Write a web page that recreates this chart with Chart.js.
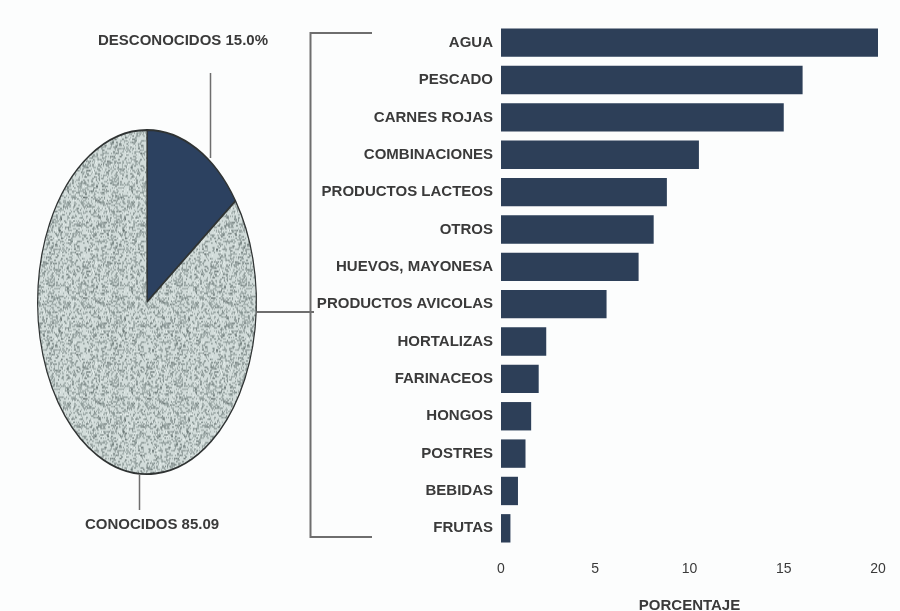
<!DOCTYPE html>
<html>
<head>
<meta charset="utf-8">
<title>Brotes por alimento</title>
<script src="https://cdn.jsdelivr.net/npm/chart.js@4/dist/chart.umd.min.js"></script>
<style>
  body { margin: 0; background: #fcfdfd; }
  #wrap { position: relative; width: 900px; height: 611px; }
  #wrap canvas { position: absolute; left: 0; top: 0; }
</style>
</head>
<body>
<div id="wrap">
  <canvas id="pieChart" width="900" height="611"></canvas>
  <canvas id="barChart" width="900" height="611"></canvas>
</div>
<script>
// pie: share of outbreaks with known / unknown food
const pieLabels = ["DESCONOCIDOS", "CONOCIDOS"];
const pieValues = [15.0, 85.0];
const pieCaptions = ["DESCONOCIDOS 15.0%", "CONOCIDOS 85.09"];

// bars: known foods, percentage
const categories = [
  "AGUA", "PESCADO", "CARNES ROJAS", "COMBINACIONES", "PRODUCTOS LACTEOS",
  "OTROS", "HUEVOS, MAYONESA", "PRODUCTOS AVICOLAS", "HORTALIZAS",
  "FARINACEOS", "HONGOS", "POSTRES", "BEBIDAS", "FRUTAS"
];
const percentages = [20.0, 16.0, 15.0, 10.5, 8.8, 8.1, 7.3, 5.6, 2.4, 2.0, 1.6, 1.3, 0.9, 0.5];
const xTicks = [0, 5, 10, 15, 20];

const DARK = "#2c4160";
const BAR_COLOR = "#2d3f58";
const TEXT = "#3a3a3a";
const LINE = "#6e6e6e";
const FONT = "'Liberation Sans', Arial, sans-serif";
const PIE_STRETCH = 173 / 110;

// speckled grey fill for the big slice
function speckle() {
  const c = document.createElement("canvas");
  c.width = 64;
  c.height = 64;
  const g = c.getContext("2d");
  g.fillStyle = "#d2dcda";
  g.fillRect(0, 0, 64, 64);
  let seed = 7;
  const next = () => (seed = (seed * 16807) % 2147483647) / 2147483647;
  for (let i = 0; i < 1700; i++) {
    const x = Math.floor(next() * 64);
    const y = Math.floor(next() * 64);
    const dark = next();
    g.fillStyle = dark < 0.7 ? "rgba(124,137,136,0.5)" : "rgba(84,95,95,0.45)";
    g.fillRect(x, y, 1 + Math.floor(next() * 2), 1);
  }
  for (let i = 0; i < 300; i++) {
    g.fillStyle = "rgba(236,243,242,0.7)";
    g.fillRect(Math.floor(next() * 64), Math.floor(next() * 64), 1, 1);
  }
  return g.createPattern(c, "repeat");
}

// squash the round pie into the tall oval
const ovalPie = {
  id: "ovalPie",
  beforeDatasetsDraw(chart) {
    const arc = chart.getDatasetMeta(0).data[0];
    const ctx = chart.ctx;
    ctx.save();
    ctx.translate(arc.x, arc.y);
    ctx.scale(1, PIE_STRETCH);
    ctx.translate(-arc.x, -arc.y);
  },
  afterDatasetsDraw(chart) {
    chart.ctx.restore();
  }
};

// captions, leader lines and the bracket joining the pie to the bars
const pieNotes = {
  id: "pieNotes",
  afterDraw(chart) {
    const ctx = chart.ctx;
    const arc = chart.getDatasetMeta(0).data[0];
    const cx = arc.x, cy = arc.y, r = arc.outerRadius;
    ctx.save();
    ctx.strokeStyle = LINE;
    ctx.lineWidth = 1.5;
    ctx.beginPath();
    ctx.moveTo(210.5, 73);
    ctx.lineTo(210.5, 158);
    ctx.moveTo(139.5, cy + r * PIE_STRETCH);
    ctx.lineTo(139.5, 510);
    ctx.stroke();

    ctx.lineWidth = 2;
    ctx.beginPath();
    ctx.moveTo(372, 33);
    ctx.lineTo(310.5, 33);
    ctx.lineTo(310.5, 537);
    ctx.lineTo(372, 537);
    ctx.moveTo(cx + r, 312);
    ctx.lineTo(314, 312);
    ctx.stroke();

    ctx.fillStyle = TEXT;
    ctx.font = "bold 15px " + FONT;
    ctx.textAlign = "center";
    ctx.textBaseline = "middle";
    ctx.fillText(pieCaptions[0], 183, 41);
    ctx.fillText(pieCaptions[1], 152, 525);
    ctx.restore();
  }
};

new Chart(document.getElementById("pieChart"), {
  type: "pie",
  data: {
    labels: pieLabels,
    datasets: [
      {
        data: pieValues,
        backgroundColor: [DARK, speckle()],
        borderColor: "#2f3333",
        borderWidth: 1.2
      }
    ]
  },
  options: {
    responsive: false,
    animation: false,
    layout: { padding: { left: 37, right: 643, top: 192, bottom: 199 } },
    plugins: { legend: { display: false }, tooltip: { enabled: false } }
  },
  plugins: [ovalPie, pieNotes]
});

new Chart(document.getElementById("barChart"), {
  type: "bar",
  data: {
    labels: categories,
    datasets: [
      {
        data: percentages,
        backgroundColor: BAR_COLOR,
        barPercentage: 0.76,
        categoryPercentage: 1
      }
    ]
  },
  options: {
    indexAxis: "y",
    responsive: false,
    animation: false,
    layout: { padding: { top: 24, right: 22, left: 0, bottom: 0 } },
    plugins: { legend: { display: false }, tooltip: { enabled: false } },
    scales: {
      x: {
        min: 0,
        max: 20,
        afterBuildTicks: (scale) => {
          scale.ticks = xTicks.map((v) => ({ value: v }));
        },
        afterFit: (scale) => {
          scale.height = 64;
        },
        grid: { display: false, drawTicks: false },
        border: { display: false },
        ticks: { padding: 14, color: TEXT, font: { family: FONT, size: 14 } },
        title: {
          display: true,
          text: "PORCENTAJE",
          color: TEXT,
          font: { family: FONT, size: 15, weight: "bold" },
          padding: { top: 0, bottom: -4 }
        }
      },
      y: {
        afterFit: (scale) => {
          scale.width = 501;
        },
        grid: { display: false, drawTicks: false },
        border: { display: false },
        ticks: { padding: 8, color: TEXT, font: { family: FONT, size: 15, weight: "bold" } }
      }
    }
  }
});
</script>
</body>
</html>
